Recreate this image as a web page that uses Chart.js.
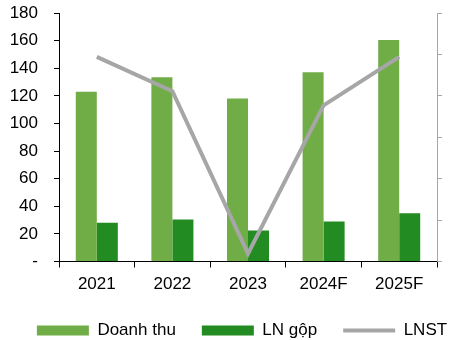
<!DOCTYPE html>
<html>
<head>
<meta charset="utf-8">
<script src="https://cdn.jsdelivr.net/npm/chart.js@4"></script>
<style>
html,body{margin:0;padding:0;background:#fff;}
#wrap{width:456px;height:340px;}
</style>
</head>
<body>
<div id="wrap"><canvas id="c" width="456" height="340"></canvas></div>
<script>
const categories = ['2021', '2022', '2023', '2024F', '2025F'];
const doanhThu = [123, 133.5, 118, 137, 160.5];
const lnGop = [28, 30.5, 22.5, 29, 35];
const lnst = [49.4, 41.1, 1.9, 37.7, 49.4];
const leftTicks = [0, 20, 40, 60, 80, 100, 120, 140, 160, 180];

const FONT = {family: "'Liberation Sans', Arial, sans-serif", size: 17};

new Chart(document.getElementById('c'), {
  data: {
    labels: categories,
    datasets: [
      {type: 'bar', label: 'Doanh thu', data: doanhThu, backgroundColor: '#70AD47', borderWidth: 0, yAxisID: 'y', order: 1},
      {type: 'bar', label: 'LN gộp', data: lnGop, backgroundColor: '#228B22', borderWidth: 0, yAxisID: 'y', order: 1},
      {type: 'line', label: 'LNST', data: lnst, borderColor: '#A6A6A6', backgroundColor: '#A6A6A6', borderWidth: 4, pointRadius: 0, tension: 0, yAxisID: 'y1', order: 0}
    ]
  },
  options: {
    responsive: false,
    animation: false,
    datasets: {bar: {categoryPercentage: 0.556, barPercentage: 1.0}},
    layout: {padding: {left: 0, right: -28, top: 13, bottom: -9}},
    plugins: {
      tooltip: {enabled: false},
      legend: {
        position: 'bottom',
        labels: {
          font: FONT,
          color: '#000',
          usePointStyle: true,
          pointStyleWidth: 52,
          boxHeight: 10,
          padding: 26,
          sort: (a, b) => a.datasetIndex - b.datasetIndex,
          generateLabels: (chart) => Chart.defaults.plugins.legend.labels.generateLabels(chart).map(l => {
            if (l.datasetIndex === 2) {
              return Object.assign({}, l, {pointStyle: 'line', lineWidth: 4, strokeStyle: '#A6A6A6', fillStyle: '#A6A6A6'});
            }
            return Object.assign({}, l, {pointStyle: 'rect', lineWidth: 0});
          })
        }
      }
    },
    scales: {
      x: {
        offset: true,
        afterFit: (s) => { s.height = 34.5; },
        grid: {display: true, drawOnChartArea: false, drawTicks: true, tickLength: 6, color: '#000', offset: true},
        border: {display: true, color: '#000', width: 1},
        ticks: {font: FONT, color: '#000', padding: 7, maxRotation: 0}
      },
      y: {
        position: 'left',
        min: 0, max: 180,
        afterBuildTicks: (s) => { s.ticks = leftTicks.map(v => ({value: v})); },
        afterFit: (s) => { s.width = 59; s.paddingTop = 0; s.paddingBottom = 0; },
        grid: {display: true, drawOnChartArea: false, drawTicks: true, tickLength: 5, color: '#000'},
        border: {display: true, color: '#000', width: 1},
        ticks: {font: FONT, color: '#000', padding: 16, autoSkip: false, callback: (v) => v === 0 ? '-' : String(v)}
      },
      y1: {
        position: 'right',
        min: 0, max: 60,
        afterFit: (s) => { s.width = 47; s.paddingTop = 0; s.paddingBottom = 0; },
        ticks: {display: false, stepSize: 10},
        grid: {display: true, drawOnChartArea: false, drawTicks: true, tickLength: 5, color: '#A6A6A6'},
        border: {display: true, color: '#A6A6A6', width: 1}
      }
    }
  }
});
</script>
</body>
</html>
